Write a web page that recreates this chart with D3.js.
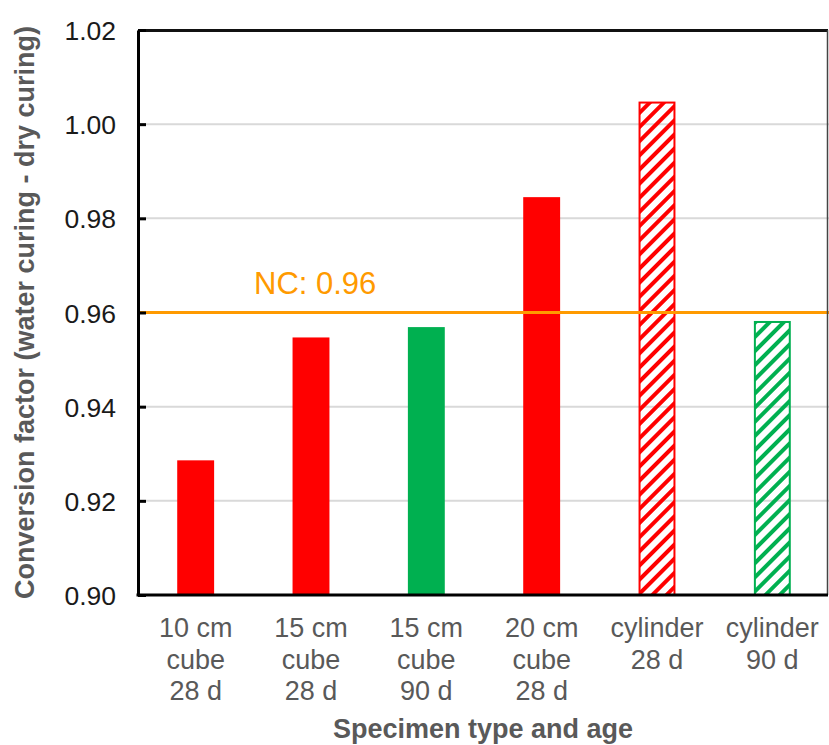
<!DOCTYPE html>
<html><head><meta charset="utf-8">
<script src="https://cdn.jsdelivr.net/npm/d3@7"></script>
<style>body{margin:0;background:#fff}svg{display:block;font-family:"Liberation Sans",Arial,sans-serif}</style>
</head><body><svg id="c" width="829" height="745"></svg>
<script>
const categories = [["10 cm","cube","28 d"],["15 cm","cube","28 d"],["15 cm","cube","90 d"],["20 cm","cube","28 d"],["cylinder","28 d"],["cylinder","90 d"]];
const values = [0.9286, 0.9547, 0.9569, 0.9845, 1.0048, 0.9582];
const colors = ["#FF0000","#FF0000","#00B050","#FF0000","#FF0000","#00B050"];
const hatched = [false,false,false,false,true,true];
const yTicks = [0.90,0.92,0.94,0.96,0.98,1.00,1.02];
const ncValue = 0.96;
const ncLabel = "NC: 0.96";

const svg = d3.select("#c");
const L=138, R=830, T=30, B=595;
const x = d3.scaleBand().domain(d3.range(categories.length)).range([L,R]).paddingInner(0.68).paddingOuter(0.34);
const y = d3.scaleLinear().domain([0.90,1.02]).range([B,T]);

const defs = svg.append("defs");
[["hr","#FF0000"],["hg","#00B050"]].forEach(([id,c])=>{
  const p = defs.append("pattern").attr("id",id).attr("patternUnits","userSpaceOnUse")
    .attr("width",10).attr("height",10).attr("patternTransform","rotate(45)");
  p.append("rect").attr("x",0).attr("y",0).attr("width",4).attr("height",10).attr("fill",c);
});

// grid
svg.append("g").selectAll("line").data(yTicks.filter(t=>t>0.9 && t<1.02)).join("line")
  .attr("x1",L).attr("x2",R).attr("y1",d=>y(d)).attr("y2",d=>y(d))
  .attr("stroke","#D9D9D9").attr("stroke-width",2);

// bars
svg.append("g").selectAll("rect").data(values).join("rect")
  .attr("x",(d,i)=>x(i)+(hatched[i]?1:0))
  .attr("width",(d,i)=>x.bandwidth()-(hatched[i]?2:0))
  .attr("y",(d,i)=>y(d)+(hatched[i]?1:0))
  .attr("height",(d,i)=>B-y(d)-(hatched[i]?1:0))
  .attr("fill",(d,i)=>hatched[i]?(colors[i]==="#FF0000"?"url(#hr)":"url(#hg)"):colors[i])
  .attr("stroke",(d,i)=>hatched[i]?colors[i]:"none")
  .attr("stroke-width",2);

// NC line
svg.append("line").attr("x1",L).attr("x2",R).attr("y1",y(ncValue)).attr("y2",y(ncValue))
  .attr("stroke","#FF9A00").attr("stroke-width",3);
svg.append("text").attr("x",254).attr("y",y(ncValue)-19).attr("fill","#FF9A00")
  .attr("font-size",31).text(ncLabel);

// frame
svg.append("line").attr("x1",L).attr("x2",828).attr("y1",T+0.5).attr("y2",T+0.5).attr("stroke","#111").attr("stroke-width",3);
svg.append("line").attr("x1",827.5).attr("x2",827.5).attr("y1",T).attr("y2",B).attr("stroke","#444").attr("stroke-width",1.5);

// y axis
const ya = svg.append("g").attr("transform",`translate(${L},0)`)
  .call(d3.axisLeft(y).tickValues(yTicks).tickFormat(d3.format(".2f")).tickSizeInner(-8).tickSizeOuter(0).tickPadding(22));
ya.select(".domain").attr("stroke","#000").attr("stroke-width",3);
ya.selectAll(".tick line").attr("stroke","#000").attr("stroke-width",3);
ya.selectAll(".tick text").attr("font-size",26.5).attr("fill","#1a1a1a").attr("font-family","Liberation Sans, Arial, sans-serif").attr("dy","0.36em");

// x axis
svg.append("line").attr("x1",L-1.5).attr("x2",828).attr("y1",B).attr("y2",B).attr("stroke","#000").attr("stroke-width",3);
const xl = svg.append("g").selectAll("text").data(categories).join("text")
  .attr("x",(d,i)=>x(i)+x.bandwidth()/2).attr("y",637).attr("text-anchor","middle")
  .attr("font-size",27).attr("fill","#595959");
xl.selectAll("tspan").data(d=>d).join("tspan")
  .attr("x",function(){return this.parentNode.getAttribute("x");})
  .attr("dy",(d,j)=>j===0?0:31.5).text(d=>d);

// titles
svg.append("text").attr("x",(L+828)/2).attr("y",738).attr("text-anchor","middle")
  .attr("font-size",27).attr("font-weight","bold").attr("fill","#595959").text("Specimen type and age");
svg.append("text").attr("transform",`translate(34,${(T+B)/2}) rotate(-90)`).attr("text-anchor","middle")
  .attr("font-size",27).attr("font-weight","bold").attr("fill","#595959").text("Conversion factor (water curing - dry curing)");
</script></body></html>
